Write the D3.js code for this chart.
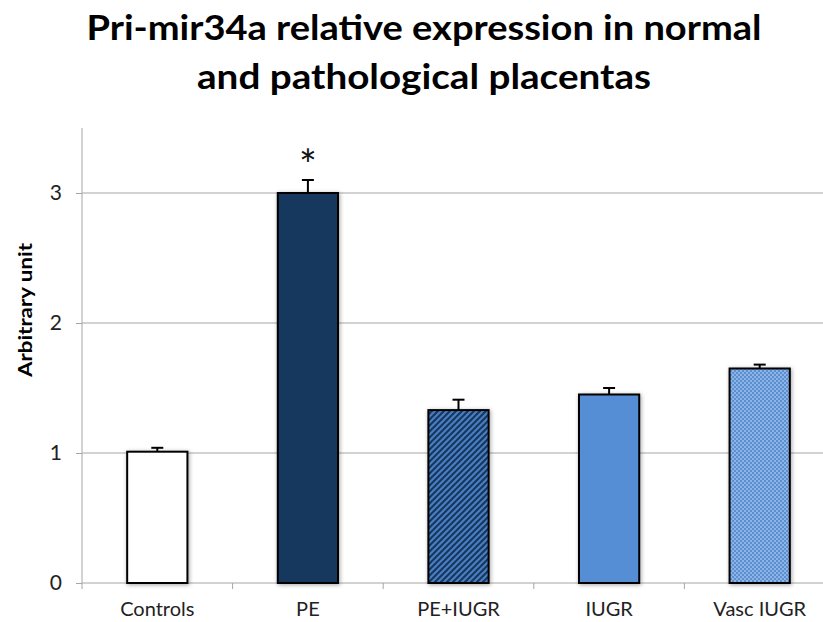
<!DOCTYPE html>
<html>
<head>
<meta charset="utf-8">
<script src="https://cdn.jsdelivr.net/npm/d3@7"></script>
<style>
  body { margin: 0; background: #fff; }
  svg { display: block; }
  text { font-family: Lato, "Open Sans", sans-serif; }
</style>
</head>
<body>
<svg id="chart" width="823" height="622"></svg>
<script>
const categories = ["Controls", "PE", "PE+IUGR", "IUGR", "Vasc IUGR"];
const values = [1.01, 3.0, 1.33, 1.45, 1.65];
const errors = [0.03, 0.10, 0.08, 0.05, 0.03];
const fills = ["#ffffff", "#17375e", "url(#hatch)", "#558ed5", "url(#checker)"];
const yTicks = [0, 1, 2, 3];
const significant = [false, true, false, false, false];
const titleLines = ["Pri-mir34a relative expression in normal", "and pathological placentas"];
const yLabel = "Arbitrary unit";

const svg = d3.select("#chart");
const W = 823, H = 622;
const margin = { left: 82, top: 128, bottom: 583, right: 835 };

const defs = svg.append("defs");
const hatch = defs.append("pattern").attr("id", "hatch")
  .attr("patternUnits", "userSpaceOnUse").attr("width", 6).attr("height", 6);
hatch.append("rect").attr("width", 6).attr("height", 6).attr("fill", "#17375e");
hatch.append("path").attr("d", "M-1,1 l2,-2 M0,6 l6,-6 M5,7 l2,-2")
  .attr("stroke", "#4a7fc4").attr("stroke-width", 2);

const checker = defs.append("pattern").attr("id", "checker")
  .attr("patternUnits", "userSpaceOnUse").attr("width", 4).attr("height", 4);
checker.append("rect").attr("width", 4).attr("height", 4).attr("fill", "#8db4e2");
checker.append("rect").attr("width", 2).attr("height", 2).attr("fill", "#5a8fd4");
checker.append("rect").attr("x", 2).attr("y", 2).attr("width", 2).attr("height", 2).attr("fill", "#5a8fd4");

const shadow = defs.append("filter").attr("id", "shadow")
  .attr("x", "-20%").attr("y", "-20%").attr("width", "140%").attr("height", "140%");
shadow.append("feDropShadow").attr("dx", 1).attr("dy", 1).attr("stdDeviation", 2)
  .attr("flood-color", "#000").attr("flood-opacity", 0.35);

const x = d3.scaleBand().domain(categories).range([margin.left, margin.right]).paddingInner(0.6).paddingOuter(0.3);
const y = d3.scaleLinear().domain([0, 3.5]).range([margin.bottom, margin.top]);

// gridlines
svg.append("g").selectAll("line").data(yTicks.filter(d => d > 0)).join("line")
  .attr("x1", margin.left).attr("x2", W)
  .attr("y1", d => y(d)).attr("y2", d => y(d))
  .attr("stroke", "#a6a6a6").attr("stroke-width", 1);

// y axis
const yAxis = svg.append("g").attr("transform", `translate(${margin.left},0)`)
  .call(d3.axisLeft(y).tickValues(yTicks).tickSize(6).tickPadding(14).tickFormat(d3.format("d")));
yAxis.select(".domain").attr("stroke", "#a6a6a6").attr("d", `M0,${y(0) + 6}V${y(3.5)}`);
yAxis.selectAll(".tick line").attr("stroke", "#a6a6a6");
yAxis.selectAll(".tick text").attr("font-size", 21).attr("fill", "#222").attr("font-family", "Lato, sans-serif");

// x axis
const xAxis = svg.append("g").attr("transform", `translate(0,${y(0)})`)
  .call(d3.axisBottom(x).tickSize(0).tickPadding(19));
xAxis.select(".domain").attr("stroke", "#a6a6a6").attr("d", `M${margin.left},0H${W}`);
xAxis.selectAll(".tick text").attr("font-size", 20).attr("fill", "#222").attr("font-family", "Lato, sans-serif");
const step = x.step();
const bounds = categories.map((c, i) => x(c) - x.paddingInner() * step / 2 + step);
svg.append("g").selectAll("line").data(bounds).join("line")
  .attr("x1", d => d).attr("x2", d => d)
  .attr("y1", y(0)).attr("y2", y(0) + 6)
  .attr("stroke", "#a6a6a6");

// bars
svg.append("g").selectAll("rect").data(categories).join("rect")
  .attr("x", d => x(d)).attr("width", x.bandwidth())
  .attr("y", (d, i) => y(values[i])).attr("height", (d, i) => y(0) - y(values[i]))
  .attr("fill", (d, i) => fills[i])
  .attr("stroke", "#000").attr("stroke-width", 2)
  .attr("filter", "url(#shadow)");

// error bars
const eb = svg.append("g").attr("stroke", "#000").attr("stroke-width", 2);
categories.forEach((c, i) => {
  const cx = x(c) + x.bandwidth() / 2;
  eb.append("line").attr("x1", cx).attr("x2", cx)
    .attr("y1", y(values[i])).attr("y2", y(values[i] + errors[i]));
  eb.append("line").attr("x1", cx - 6).attr("x2", cx + 6)
    .attr("y1", y(values[i] + errors[i])).attr("y2", y(values[i] + errors[i]));
});

// significance
svg.append("g").selectAll("text").data(categories.filter((c, i) => significant[i])).join("text")
  .attr("x", d => x(d) + x.bandwidth() / 2)
  .attr("y", d => y(values[categories.indexOf(d)] + errors[categories.indexOf(d)]))
  .attr("text-anchor", "middle").attr("font-size", 42).attr("fill", "#111")
  .text("*");

// y label
svg.append("text").attr("transform", `translate(32,310) rotate(-90)`)
  .attr("text-anchor", "middle").attr("font-size", 18).attr("font-weight", "bold").attr("fill", "#000")
  .attr("textLength", 134).attr("lengthAdjust", "spacingAndGlyphs")
  .text(yLabel);

// title (narrow bold face approximated by compressing to the reference widths)
const titleWidths = [675, 454];
const titleY = [40, 89];
svg.append("g").selectAll("text").data(titleLines).join("text")
  .attr("x", 424).attr("y", (d, i) => titleY[i])
  .attr("text-anchor", "middle").attr("font-weight", "bold").attr("font-size", 35).attr("fill", "#000")
  .attr("textLength", (d, i) => titleWidths[i]).attr("lengthAdjust", "spacingAndGlyphs")
  .text(d => d);
</script>
</body>
</html>
